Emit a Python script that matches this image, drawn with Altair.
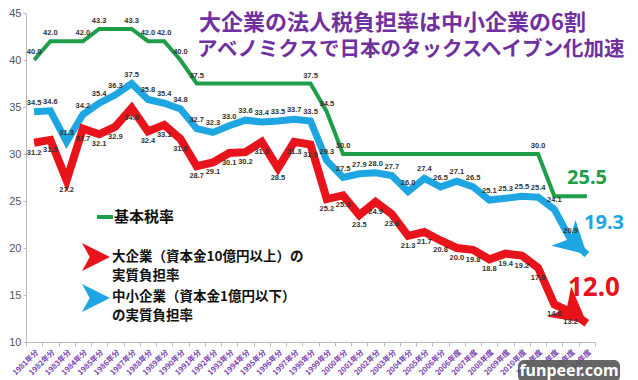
import altair as alt
import pandas as pd

years = [f"{y}年分" for y in range(1981, 2007)] + [f"{y}年度" for y in range(2006, 2015)]

kihon = [40.0, 42.0, 42.0, 42.0, 43.3, 43.3, 43.3, 42.0, 42.0, 40.0,
         37.5, 37.5, 37.5, 37.5, 37.5, 37.5, 37.5, 37.5, 34.5,
         30.0, 30.0, 30.0, 30.0, 30.0, 30.0, 30.0, 30.0, 30.0, 30.0, 30.0, 30.0, 30.0,
         25.5, 25.5, 25.5]
chusho = [34.5, 34.6, 31.3, 34.2, 35.4, 36.3, 37.5, 35.8, 35.4, 34.8,
          32.7, 32.3, 33.0, 33.6, 33.4, 33.5, 33.7, 33.5, 29.3, 27.5,
          27.9, 28.0, 27.7, 26.0, 27.4, 26.5, 27.1, 26.5, 25.1, 25.3,
          25.5, 25.4, 24.1, 20.9, 19.3]
daikigyo = [31.2, 31.5, 27.2, 32.7, 32.1, 32.9, 34.9, 32.4, 33.1, 31.6,
            28.7, 29.1, 30.1, 30.2, 31.3, 28.5, 31.3, 31.0, 25.2, 25.6,
            23.5, 24.9, 23.6, 21.3, 21.7, 20.8, 20.0, 19.8, 18.8, 19.4,
            19.2, 17.9, 14.0, 13.2, 12.0]
kihon_labeled = [0, 1, 3, 4, 6, 7, 8, 9, 10, 17, 18, 19, 31]

GREEN, BLUE, RED, PURPLE = "#1f9e4a", "#1ea6e2", "#e8131b", "#7030a0"
CJK = "Noto Sans CJK JP"

rows = []
for i, yr in enumerate(years):
    rows.append({"year": yr, "series": "kihon", "value": kihon[i], "lab": i in kihon_labeled, "last": False})
    rows.append({"year": yr, "series": "chusho", "value": chusho[i], "lab": i < len(years) - 1, "last": i == len(years) - 1})
    rows.append({"year": yr, "series": "dai", "value": daikigyo[i], "lab": i < len(years) - 1, "last": i == len(years) - 1})
df = pd.DataFrame(rows)
df["txt"] = df["value"].map(lambda v: f"{v:.1f}")

PADL, PADT = 18, 5
W, H = 569, 329

xenc = alt.X("year:N", sort=years, bandPosition=0.5,
             scale=alt.Scale(type="band", paddingInner=0, paddingOuter=0),
             axis=alt.Axis(title=None, labelAngle=-45, labelFontSize=7.5, labelColor="#7a3fb0",
                           labelFontWeight="bold", labelFont=CJK, tickBand="extent",
                           tickSize=4, tickColor="#bbbbbb", domainColor="#bbbbbb",
                           labelPadding=2, labelOverlap=False))
yenc = alt.Y("value:Q", scale=alt.Scale(domain=[10, 45], nice=False, zero=False),
             axis=alt.Axis(title=None, values=[10, 15, 20, 25, 30, 35, 40, 45], grid=False,
                           labelFontSize=11, labelColor="#555555", labelFont="Liberation Sans",
                           tickSize=3, tickColor="#bbbbbb", domainColor="#bbbbbb", labelPadding=2))

base = alt.Chart(df)


def series(name):
    return base.transform_filter(alt.datum.series == name)


line_g = series("kihon").mark_line(color=GREEN, strokeWidth=4).encode(x=xenc, y=yenc)
line_b = series("chusho").mark_line(color=BLUE, strokeWidth=7).encode(x=xenc, y=yenc)
line_r = series("dai").mark_line(color=RED, strokeWidth=8).encode(x=xenc, y=yenc)

HEAD = "M0,0 L-1,-0.55 L-0.72,0 L-1,0.55 Z"
head_b = series("chusho").transform_filter(alt.datum.last).mark_point(
    shape=HEAD, size=4096, filled=True, opacity=1, color=BLUE, angle=43, strokeWidth=0
).encode(x=xenc, y=yenc)
head_r = series("dai").transform_filter(alt.datum.last).mark_point(
    shape=HEAD, size=4900, filled=True, opacity=1, color=RED, angle=38, strokeWidth=0
).encode(x=xenc, y=yenc)

lab_kw = dict(fontSize=7.5, fontWeight="bold", color="#333333", font="Liberation Sans")
lab_g = series("kihon").transform_filter(alt.datum.lab).mark_text(dy=-8, **lab_kw).encode(x=xenc, y=yenc, text="txt:N")
lab_b = series("chusho").transform_filter(alt.datum.lab).mark_text(dy=-9, **lab_kw).encode(x=xenc, y=yenc, text="txt:N")
lab_r = series("dai").transform_filter(alt.datum.lab).mark_text(dy=10, **lab_kw).encode(x=xenc, y=yenc, text="txt:N")


def px(x):
    return x - 8 - PADL


def py(y):
    return y - 8 - PADT


def note(text, x, y, size, color, font=CJK, weight="bold", align="left"):
    return alt.Chart(pd.DataFrame({"t": [text]})).mark_text(
        fontSize=size, fontWeight=weight, color=color, font=font, align=align, baseline="middle"
    ).encode(x=alt.value(px(x)), y=alt.value(py(y)), text="t:N")


title1 = note("大企業の法人税負担率は中小企業の6割", 199, 23, 22, PURPLE)
title2 = note("アベノミクスで日本のタックスヘイブン化加速", 197, 50, 20.5, PURPLE)

leg_line = alt.Chart(pd.DataFrame({"t": [0]})).mark_rule(color=GREEN, strokeWidth=4).encode(
    x=alt.value(px(97)), x2=alt.value(px(113)), y=alt.value(py(217)))
leg_g = note("基本税率", 114, 217, 15, "#111111")
LEG = "M1,0 L-1,-1 L-0.45,0 L-1,1 Z"
leg_arrows = alt.Chart(pd.DataFrame({"c": ["r", "b"], "yy": [py(257), py(298)]})).mark_point(
    shape=LEG, size=784, filled=True, opacity=1, strokeWidth=0
).encode(x=alt.value(px(96)), y=alt.Y("yy:Q", scale=None),
         color=alt.Color("c:N", scale=alt.Scale(domain=["r", "b"], range=[RED, BLUE]), legend=None))
leg_r1 = note("大企業（資本金10億円以上）の", 112, 257, 13.5, "#111111")
leg_r2 = note("実質負担率", 112, 276, 13.5, "#111111")
leg_b1 = note("中小企業（資本金1億円以下）", 112, 297, 13.5, "#111111")
leg_b2 = note("の実質負担率", 112, 316, 13.5, "#111111")

big_g = note("25.5", 567, 178, 20, GREEN, font="Noto Sans")
big_b = note("19.3", 584, 223, 20, BLUE, font="Noto Sans")
big_r = note("12.0", 568, 288, 26, RED, font="Noto Sans")

wm_rect = alt.Chart(pd.DataFrame({"t": [0]})).mark_rect(color="#555555", opacity=0.9, cornerRadius=6).encode(
    x=alt.value(px(518)), x2=alt.value(px(620)), y=alt.value(py(360)), y2=alt.value(py(382)))
wm_text = note("funpeer.com", 569, 371, 16, "#ffffff", font="Noto Sans", align="center")

chart = alt.layer(
    line_g, line_b, line_r, head_b, head_r, lab_g, lab_b, lab_r,
    title1, title2, leg_line, leg_g, leg_arrows, leg_r1, leg_r2, leg_b1, leg_b2,
    big_g, big_b, big_r, wm_rect, wm_text
).properties(
    width=W, height=H,
    autosize=alt.AutoSizeParams(type="none"),
    padding={"left": PADL, "top": PADT, "right": 622 - PADL - W, "bottom": 372 - PADT - H},
    background="white",
).configure_view(stroke=None)

chart.save("out.html", embed_options={"renderer": "svg", "actions": False})
